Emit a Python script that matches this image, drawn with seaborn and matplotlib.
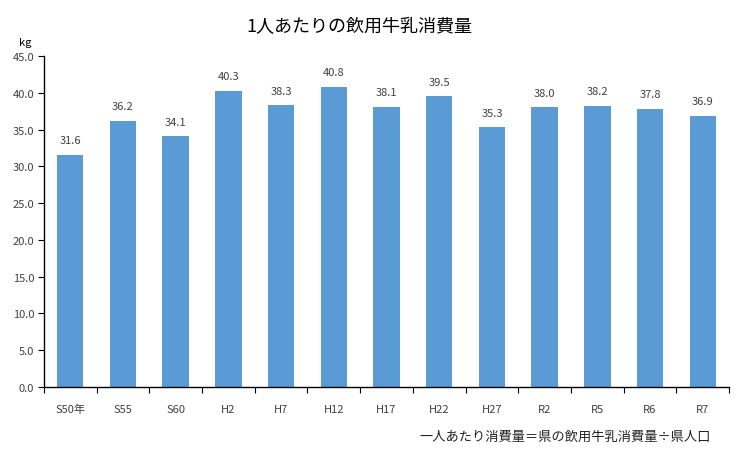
import pandas as pd
import matplotlib.pyplot as plt
import seaborn as sns
from matplotlib.ticker import FixedLocator

years = ["S50年", "S55", "S60", "H2", "H7", "H12", "H17", "H22", "H27", "R2", "R5", "R6", "R7"]
consumption = [31.6, 36.2, 34.1, 40.3, 38.3, 40.8, 38.1, 39.5, 35.3, 38.0, 38.2, 37.8, 36.9]
y_ticks = [0, 5, 10, 15, 20, 25, 30, 35, 40, 45]

TITLE = "1人あたりの飲用牛乳消費量"
UNIT = "kg"
NOTE = "一人あたり消費量＝県の飲用牛乳消費量÷県人口"


def main() -> None:
    sns.set_theme(style="white")
    plt.rcParams["font.family"] = ["Noto Sans CJK JP", "DejaVu Sans"]

    df = pd.DataFrame({"year": years, "kg": consumption})

    fig = plt.figure(figsize=(7.44, 4.56), dpi=100)
    ax = fig.add_axes([0.059, 0.149, 0.921, 0.726])

    sns.barplot(data=df, x="year", y="kg", color="#5B9BD5", width=0.5,
                saturation=1, linewidth=0, ax=ax)

    for i, v in enumerate(df["kg"]):
        ax.text(i, v + 1.3, f"{v:.1f}", ha="center", va="bottom",
                fontsize=8, color="#404040")

    ax.set_yticks(y_ticks)
    ax.set_yticklabels([f"{t:.1f}" for t in y_ticks])
    ax.set_ylim(0, 45)
    ax.set_xlim(-0.5, len(years) - 0.5)
    ax.set_xlabel("")
    ax.set_ylabel("")

    for side in ["top", "right"]:
        ax.spines[side].set_visible(False)
    for side in ["left", "bottom"]:
        ax.spines[side].set_color("black")
        ax.spines[side].set_linewidth(1.0)

    ax.xaxis.set_minor_locator(FixedLocator([i + 0.5 for i in range(-1, len(years))]))
    ax.tick_params(axis="x", which="major", length=0, pad=12, labelsize=8, colors="#404040")
    ax.tick_params(axis="x", which="minor", bottom=True, length=4, width=0.8, color="black")
    ax.tick_params(axis="y", which="major", left=True, length=4, width=0.8, color="black",
                   labelsize=8, labelcolor="#404040", pad=3)

    fig.text(0.483, 0.94, TITLE, ha="center", va="center", fontsize=13, color="#000000")
    fig.text(0.034, 0.905, UNIT, ha="center", va="center", fontsize=8, color="#000000")
    fig.text(0.955, 0.042, NOTE, ha="right", va="center", fontsize=9.5, color="#222222")

    fig.savefig("out.png", dpi=100)
    plt.close(fig)


if __name__ == "__main__":
    main()
